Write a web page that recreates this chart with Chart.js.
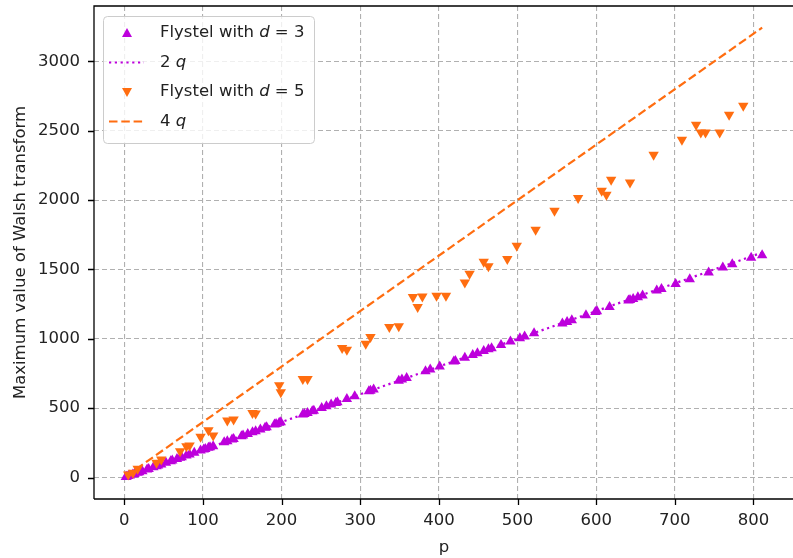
<!DOCTYPE html>
<html>
<head>
<meta charset="utf-8">
<script src="https://cdn.jsdelivr.net/npm/chart.js@4"></script>
<style>
  html, body { margin: 0; padding: 0; background: #fff; overflow: hidden; }
  #wrap { width: 800px; height: 558px; }
</style>
</head>
<body>
<div id="wrap"><canvas id="chart" width="800" height="558"></canvas></div>
<script>
// Flystel with d = 3: prime p and max Walsh value
const d3P = [2, 3, 5, 7, 11, 13, 17, 19, 23, 29, 31, 37, 41, 43, 47, 53, 59, 61, 67, 71,
    73, 79, 83, 89, 97, 101, 103, 107, 109, 113, 127, 131, 137, 139, 149, 151, 157, 163, 167, 173,
    179, 181, 191, 193, 197, 199, 227, 229, 233, 239, 241, 251, 257, 263, 269, 271, 283, 293, 311, 313,
    317, 349, 353, 359, 383, 389, 401, 419, 421, 433, 443, 449, 457, 463, 467, 479, 491, 503, 509, 521,
    557, 563, 569, 587, 599, 601, 617, 641, 643, 647, 653, 659, 677, 683, 701, 719, 743, 761, 773, 797, 811];
const d3Max = [4, 6, 10, 14, 22, 26, 34, 38, 46, 58, 62, 74, 82, 86, 94, 106, 118, 122, 134, 142,
    146, 158, 166, 178, 194, 202, 206, 214, 218, 226, 254, 262, 274, 278, 298, 302, 314, 326, 334, 346,
    358, 362, 382, 386, 394, 398, 454, 458, 466, 478, 482, 502, 514, 526, 538, 542, 566, 586, 622, 626,
    634, 698, 706, 718, 766, 778, 800, 836, 840, 864, 884, 896, 912, 924, 932, 956, 980, 1004, 1016, 1040,
    1110, 1122, 1134, 1170, 1194, 1198, 1230, 1276, 1280, 1288, 1300, 1312, 1348, 1360, 1396, 1430, 1478, 1514, 1538, 1584, 1602];

// Flystel with d = 5
const d5P = [5, 11, 17, 41, 47, 71, 79, 83, 97, 107, 113, 131, 139, 163, 167, 197, 199, 227, 233, 277,
    283, 307, 313, 337, 349, 367, 373, 379, 397, 409, 433, 439, 457, 463, 487, 499, 523, 547, 577, 607,
    613, 619, 643, 673, 709, 727, 733, 739, 757, 769, 787];
const d5Max = [22, 34, 63, 106, 130, 190, 226, 231, 293, 341, 302, 411, 418, 466, 461, 666, 615, 711, 711, 934,
    922, 965, 1013, 1085, 1090, 1302, 1230, 1306, 1311, 1311, 1407, 1470, 1556, 1524, 1575, 1671, 1787, 1924, 2015, 2068,
    2039, 2147, 2128, 2327, 2435, 2543, 2488, 2488, 2488, 2615, 2680];

// bound lines 2q and 4q over the same q range
const qRange = [2, 811];
const twoQ = [4, 1622];
const fourQ = [8, 3244];

const xTickValues = [0, 100, 200, 300, 400, 500, 600, 700, 800];
const yTickValues = [0, 500, 1000, 1500, 2000, 2500, 3000];

const purple = '#bd00dc';
const orange = '#ff6d10';
const FONT = 'DejaVu Sans';
const FS = 16.5;

const toPoints = (xs, ys) => xs.map((x, i) => ({ x: x, y: ys[i] }));

// matplotlib style legend, spines and black tick marks
const mplDecor = {
    id: 'mplDecor',
    afterDatasetsDraw(chart) {
        const { ctx, chartArea: a, scales } = chart;
        ctx.save();
        ctx.strokeStyle = '#000';
        ctx.lineWidth = 1.3;
        ctx.beginPath();
        ctx.moveTo(a.left, a.bottom); ctx.lineTo(a.left, a.top); ctx.lineTo(a.right, a.top);
        ctx.moveTo(a.left, a.bottom); ctx.lineTo(a.right, a.bottom);
        xTickValues.forEach(v => {
            const px = Math.round(scales.x.getPixelForValue(v)) + 0.5;
            ctx.moveTo(px, a.bottom); ctx.lineTo(px, a.bottom + 6);
        });
        yTickValues.forEach(v => {
            const py = Math.round(scales.y.getPixelForValue(v)) + 0.5;
            ctx.moveTo(a.left, py); ctx.lineTo(a.left - 6, py);
        });
        ctx.stroke();

        // legend
        const bx = a.left + 9, by = a.top + 10, bw = 211, bh = 127;
        ctx.fillStyle = 'rgba(255,255,255,0.8)';
        ctx.strokeStyle = '#cccccc';
        ctx.lineWidth = 1;
        ctx.beginPath();
        ctx.roundRect(bx + 0.5, by + 0.5, bw, bh, 4);
        ctx.fill();
        ctx.stroke();

        const rows = [
            { kind: 'up', color: purple, pre: 'Flystel with ', it: 'd', post: ' = 3' },
            { kind: 'dot', color: purple, pre: '2 ', it: 'q', post: '' },
            { kind: 'down', color: orange, pre: 'Flystel with ', it: 'd', post: ' = 5' },
            { kind: 'dash', color: orange, pre: '4 ', it: 'q', post: '' }
        ];
        rows.forEach((r, i) => {
            const cy = by + 17 + i * 29.5;
            const mx = bx + 24;
            ctx.fillStyle = r.color;
            ctx.strokeStyle = r.color;
            if (r.kind === 'up' || r.kind === 'down') {
                const s = r.kind === 'up' ? 1 : -1;
                ctx.beginPath();
                ctx.moveTo(mx, cy - 5 * s);
                ctx.lineTo(mx - 5, cy + 4 * s);
                ctx.lineTo(mx + 5, cy + 4 * s);
                ctx.closePath();
                ctx.fill();
            } else {
                ctx.lineWidth = 2.2;
                ctx.setLineDash(r.kind === 'dot' ? [2.2, 3.6] : [8.5, 3.8]);
                ctx.beginPath();
                ctx.moveTo(bx + 6, cy); ctx.lineTo(bx + 41, cy);
                ctx.stroke();
                ctx.setLineDash([]);
            }
            ctx.fillStyle = '#222';
            ctx.textBaseline = 'middle';
            let tx = bx + 57;
            ctx.font = FS + 'px "' + FONT + '"';
            ctx.fillText(r.pre, tx, cy);
            tx += ctx.measureText(r.pre).width;
            ctx.font = 'oblique ' + FS + 'px "' + FONT + '"';
            ctx.fillText(r.it, tx, cy);
            tx += ctx.measureText(r.it).width;
            ctx.font = FS + 'px "' + FONT + '"';
            ctx.fillText(r.post, tx, cy);
        });
        ctx.restore();
    }
};

new Chart(document.getElementById('chart'), {
    type: 'scatter',
    data: {
        datasets: [
            {
                label: 'Flystel with d = 3',
                data: toPoints(d3P, d3Max),
                pointStyle: 'triangle',
                pointRadius: 6,
                backgroundColor: purple,
                borderColor: purple,
                borderWidth: 0,
                order: 4
            },
            {
                type: 'line',
                label: '2 q',
                data: toPoints(qRange, twoQ),
                borderColor: purple,
                borderWidth: 2.2,
                borderDash: [2.2, 3.6],
                pointRadius: 0,
                fill: false,
                order: 3
            },
            {
                label: 'Flystel with d = 5',
                data: toPoints(d5P, d5Max),
                pointStyle: 'triangle',
                rotation: 180,
                pointRadius: 6,
                backgroundColor: orange,
                borderColor: orange,
                borderWidth: 0,
                order: 2
            },
            {
                type: 'line',
                label: '4 q',
                data: toPoints(qRange, fourQ),
                borderColor: orange,
                borderWidth: 2.2,
                borderDash: [8.5, 3.8],
                pointRadius: 0,
                fill: false,
                order: 1
            }
        ]
    },
    options: {
        responsive: false,
        animation: false,
        layout: { padding: { top: 5, right: 1, left: 0, bottom: 0 } },
        plugins: {
            legend: { display: false },
            tooltip: { enabled: false }
        },
        scales: {
            x: {
                type: 'linear',
                min: -38.5,
                max: 851.5,
                afterBuildTicks: s => { s.ticks = xTickValues.map(v => ({ value: v })); },
                afterFit: s => { s.height = 59; s.paddingLeft = 0; s.paddingRight = 0; },
                ticks: {
                    color: '#222',
                    font: { family: FONT, size: FS },
                    padding: 12,
                    maxRotation: 0,
                    callback: v => String(v)
                },
                grid: { color: '#b0b0b0', lineWidth: 1.1, drawTicks: false },
                border: { display: false, dash: [5, 3] },
                title: {
                    display: true,
                    text: 'p',
                    color: '#222',
                    font: { family: FONT, size: FS },
                    padding: { top: 0, bottom: 0 }
                }
            },
            y: {
                type: 'linear',
                min: -155,
                max: 3400,
                afterBuildTicks: s => { s.ticks = yTickValues.map(v => ({ value: v })); },
                afterFit: s => { s.width = 94; s.paddingTop = 0; s.paddingBottom = 0; },
                ticks: {
                    color: '#222',
                    font: { family: FONT, size: FS },
                    padding: 14,
                    callback: v => String(v)
                },
                grid: { color: '#b0b0b0', lineWidth: 1.1, drawTicks: false },
                border: { display: false, dash: [5, 3] },
                title: {
                    display: true,
                    text: 'Maximum value of Walsh transform',
                    color: '#222',
                    font: { family: FONT, size: FS },
                    padding: { top: 11, bottom: 0 }
                }
            }
        }
    },
    plugins: [mplDecor]
});
</script>
</body>
</html>
